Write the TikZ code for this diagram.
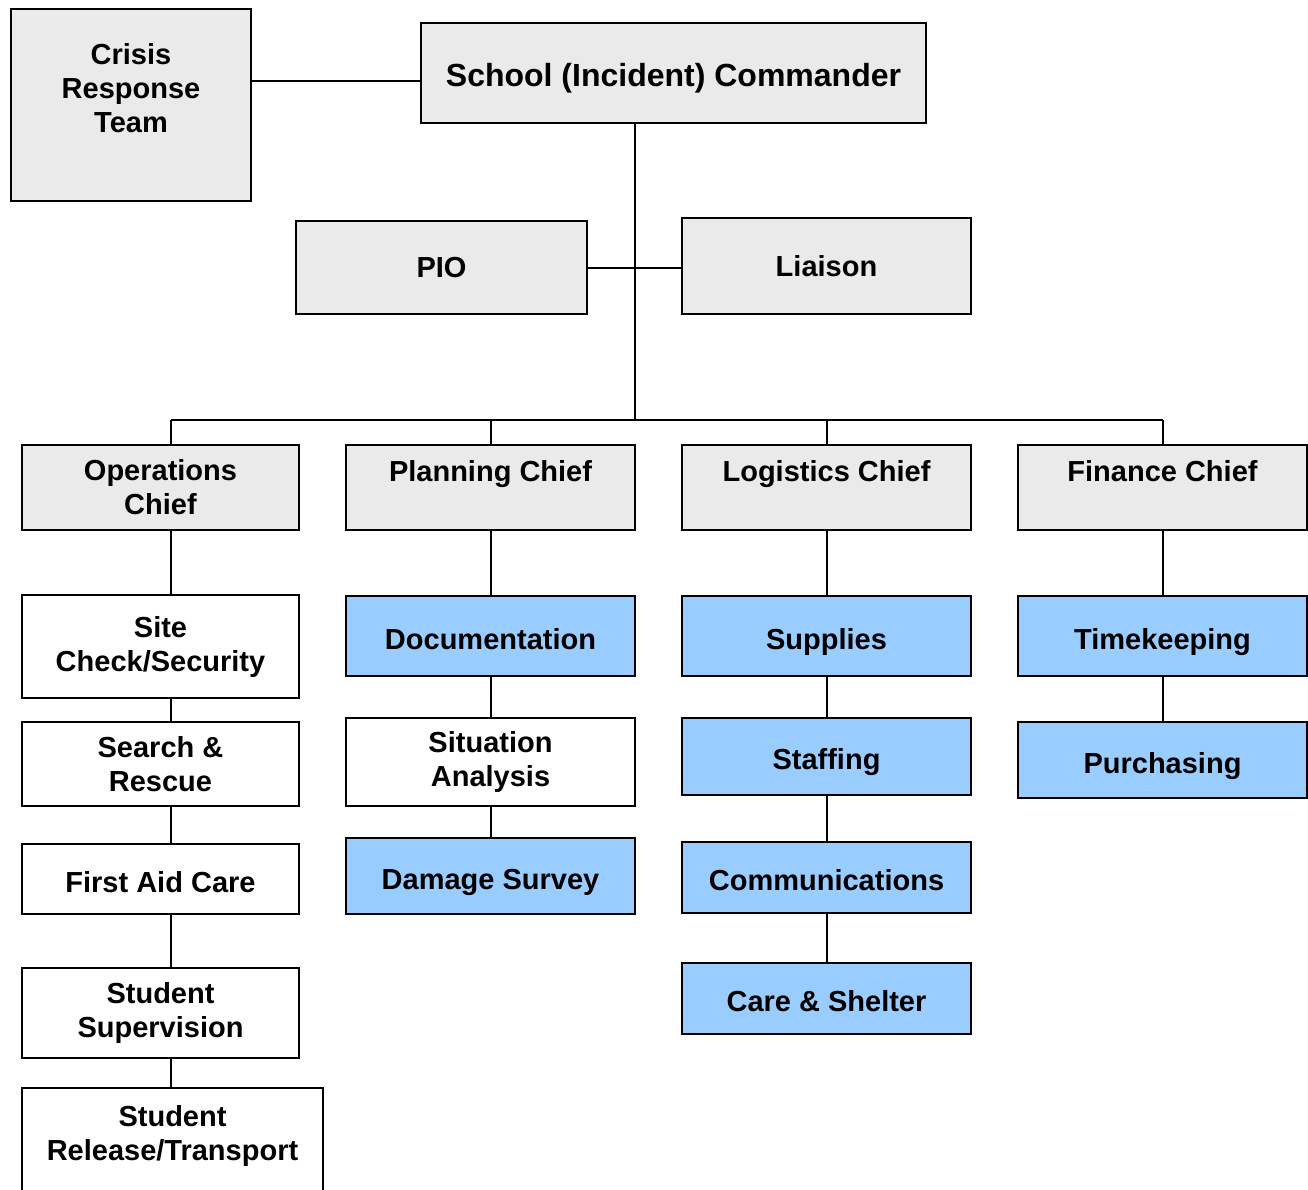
\documentclass[tikz,border=0pt]{standalone}
\usepackage{fontspec}
\setmainfont{Liberation Sans}
\definecolor{boxgray}{HTML}{EAEAEA}
\definecolor{boxblue}{HTML}{99CCFF}
\tikzset{
	box/.style={draw, line width=1pt, align=center, inner sep=2pt, font=\fontsize{14.5}{17}\selectfont\bfseries},
	chief/.style={box, fill=boxgray},
	unit/.style={box, fill=boxblue},
	task/.style={box, fill=white},
	oneline/.style={text height=13.4pt, text depth=0pt},
	link/.style={line width=1pt},
}
\begin{document}
\begin{tikzpicture}[x=0.5pt, y=-0.5pt]
	\useasboundingbox (0,0) rectangle (1308,1190);
	% command staff
	\node[chief, minimum width=120pt, minimum height=96pt] (crt) at (131,105) {Crisis\\Response\\Team\\\mbox{}};
	\node[chief, oneline, minimum width=252.5pt, minimum height=50pt, font=\fontsize{16}{19}\selectfont\bfseries] (cmd) at (673.5,73) {School (Incident) Commander};
	\node[chief, minimum width=145.5pt, minimum height=46.5pt] (pio) at (441.5,267.5) {PIO};
	\node[chief, minimum width=144.5pt, minimum height=48pt] (lia) at (826.5,266) {Liaison};
	% section chiefs
	\node[chief, minimum width=138.5pt, minimum height=42.5pt] (ops) at (160.5,487.5) {Operations\\Chief};
	\node[chief, minimum width=144.5pt, minimum height=42.5pt] (pln) at (490.5,487.5) {Planning Chief\\\mbox{}};
	\node[chief, minimum width=144.5pt, minimum height=42.5pt] (log) at (826.5,487.5) {Logistics Chief\\\mbox{}};
	\node[chief, minimum width=144.5pt, minimum height=42.5pt] (fin) at (1162.5,487.5) {Finance Chief\\\mbox{}};
	% operations
	\node[task, minimum width=138.5pt, minimum height=51.5pt] (site) at (160.5,646.5) {Site\\Check/Security};
	\node[task, minimum width=138.5pt, minimum height=42pt] (sr) at (160.5,764) {Search \&\\Rescue};
	\node[task, oneline, minimum width=138.5pt, minimum height=35pt] (fa) at (160.5,879) {First Aid Care};
	\node[task, minimum width=138.5pt, minimum height=45pt] (ss) at (160.5,1013) {Student\\Supervision};
	\node[task, minimum width=150.5pt, minimum height=62pt] (srt) at (172.5,1150) {Student\\Release/Transport\\\mbox{}};
	% planning
	\node[unit, oneline, minimum width=144.5pt, minimum height=40pt] (doc) at (490.5,636) {Documentation};
	\node[task, minimum width=144.5pt, minimum height=44pt] (sit) at (490.5,762) {Situation\\Analysis};
	\node[unit, oneline, minimum width=144.5pt, minimum height=38pt] (dmg) at (490.5,876) {Damage Survey};
	% logistics
	\node[unit, oneline, minimum width=144.5pt, minimum height=40pt] (sup) at (826.5,636) {Supplies};
	\node[unit, oneline, minimum width=144.5pt, minimum height=38.5pt] (stf) at (826.5,756.5) {Staffing};
	\node[unit, oneline, minimum width=144.5pt, minimum height=35.5pt] (com) at (826.5,877.5) {Communications};
	\node[unit, oneline, minimum width=144.5pt, minimum height=35.5pt] (cas) at (826.5,998.5) {Care \& Shelter};
	% finance
	\node[unit, oneline, minimum width=144.5pt, minimum height=40pt] (tim) at (1162.5,636) {Timekeeping};
	\node[unit, oneline, minimum width=144.5pt, minimum height=38pt] (pur) at (1162.5,760) {Purchasing};
	% lines
	\coordinate (trunk) at (635,420);
	\coordinate (opsx) at (171,420);
	\draw[link] ([yshift=-4pt]cmd.west) -- ([yshift=-4pt]cmd.west -| crt.east);
	\draw[link] (pio.east) -- (pio.east -| lia.west);
	\draw[link] (cmd.south -| trunk) -- (trunk);
	\draw[link] (opsx) -- (trunk -| fin.north);
	\draw[link] (opsx) -- (opsx |- ops.north);
	\foreach \n in {pln,log,fin}
		\draw[link] (\n.north |- trunk) -- (\n.north);
	\foreach \a/\b in {ops/site, site/sr, sr/fa, fa/ss, ss/srt}
		\draw[link] (\a.south -| opsx) -- (\b.north -| opsx);
	\foreach \a/\b in {pln/doc, doc/sit, sit/dmg, log/sup, sup/stf, stf/com, com/cas, fin/tim, tim/pur}
		\draw[link] (\a) -- (\b);
\end{tikzpicture}
\end{document}
